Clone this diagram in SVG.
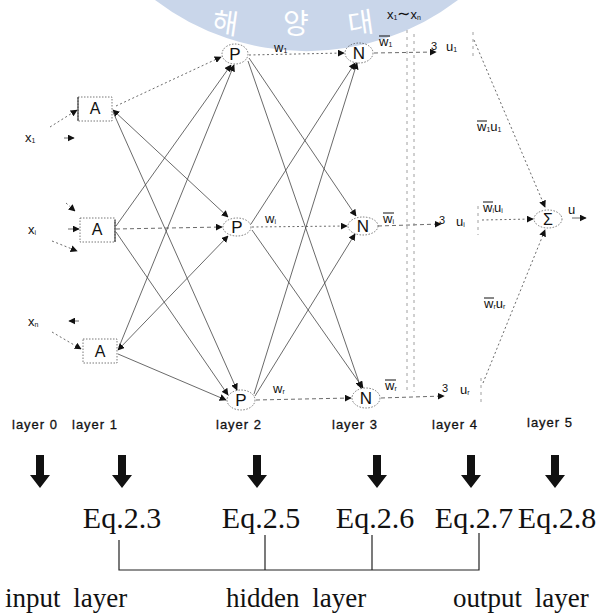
<svg xmlns="http://www.w3.org/2000/svg" width="606" height="613" viewBox="0 0 606 613">
  <defs>
    <marker id="ah" viewBox="0 0 10 10" refX="9" refY="5" markerWidth="7" markerHeight="7" markerUnits="userSpaceOnUse" orient="auto-start-reverse">
      <path d="M0,0 L10,5 L0,10 z" fill="#111"/>
    </marker>
  </defs>
  <style>
    .sans { font-family: "Liberation Sans", Arial, sans-serif; fill: #111; }
    .serif { font-family: "Liberation Serif", "Times New Roman", serif; fill: #111; }
    .node { fill: none; stroke: #555; stroke-width: 0.8; stroke-dasharray: 1.5 1.5; }
    .bar { stroke: #222; stroke-width: 1; }
    .edge { fill: none; stroke: #444; stroke-width: 0.8; marker-end: url(#ah); }
    .dot { stroke-dasharray: 2 2.5; }
    .dash { stroke-dasharray: 4 3; }
    .guide { fill: none; stroke: #888; stroke-width: 0.8; stroke-dasharray: 3 4; }
    .lbl { font-size: 13px; }
    .sub { font-size: 7px; }
    .layer { font-size: 13px; letter-spacing: 1px; stroke: #111; stroke-width: 0.3; }
    .eq { font-size: 30px; }
    .big { font-size: 27px; word-spacing: 6px; }
    .down { fill: #111; }
  </style>

  <!-- faint seal behind the top of the diagram -->
  <g id="seal">
    <path d="M155,0 A250,250 0 0 0 458,0 Z" fill="#c9d6ea"/>
    <g font-family="'Noto Sans CJK KR', sans-serif" font-size="28" fill="#ffffff">
      <text x="224" y="33" text-anchor="middle" transform="rotate(8 224 33)">해</text>
      <text x="296" y="34" text-anchor="middle">양</text>
      <text x="362" y="33" text-anchor="middle" transform="rotate(-8 362 33)">대</text>
    </g>
  </g>

  <!-- connectors -->
  <g id="connectors">
    <!-- inputs to layer 1 -->
    <line class="edge dot" x1="50" y1="127" x2="77" y2="110"/>
    <line class="edge" x1="64" y1="138" x2="74" y2="138"/>
    <line class="edge dot" x1="66" y1="203" x2="75" y2="211"/>
    <line class="edge" x1="68" y1="229" x2="79" y2="229"/>
    <line class="edge dot" x1="52" y1="241" x2="77" y2="251"/>
    <line class="edge" x1="79" y1="321" x2="69" y2="321"/>
    <line class="edge dot" x1="52" y1="332" x2="81" y2="349"/>

    <!-- layer 1 to layer 2 -->
    <line class="edge dot" x1="116" y1="106" x2="221" y2="57"/>
    <line class="edge" x1="116" y1="226" x2="231" y2="65"/>
    <line class="edge" x1="119" y1="347" x2="234" y2="65"/>
    <line class="edge" x1="113" y1="110" x2="228" y2="217" marker-start="url(#ah)"/>
    <line class="edge dash" x1="116" y1="229" x2="222" y2="227"/>
    <line class="edge" x1="118" y1="350" x2="228" y2="236" marker-start="url(#ah)"/>
    <line class="edge" x1="113" y1="112" x2="237" y2="390"/>
    <line class="edge" x1="116" y1="232" x2="228" y2="395"/>
    <line class="edge" x1="118" y1="354" x2="226" y2="400"/>

    <!-- layer 2 to layer 3 -->
    <line class="edge dot" x1="249" y1="55" x2="344" y2="53"/>
    <line class="edge" x1="249" y1="58" x2="356" y2="216"/>
    <line class="edge" x1="248" y1="61" x2="361" y2="388"/>
    <line class="edge" x1="251" y1="224" x2="355" y2="63"/>
    <line class="edge dot" x1="252" y1="227" x2="347" y2="226"/>
    <line class="edge" x1="252" y1="230" x2="363" y2="388"/>
    <line class="edge" x1="254" y1="394" x2="357" y2="63"/>
    <line class="edge" x1="255" y1="396" x2="355" y2="234"/>
    <line class="edge dash" x1="256" y1="400" x2="351" y2="398"/>

    <!-- layer 3 to layer 4 -->
    <line class="edge dash" x1="374" y1="53" x2="436" y2="52"/>
    <line class="edge dash" x1="378" y1="226" x2="441" y2="224"/>
    <line class="edge dash" x1="381" y1="398" x2="444" y2="396"/>

    <!-- shared inputs x1 ~ xn -->
    <line class="guide" x1="407" y1="30" x2="407" y2="392"/>
    <line class="guide" x1="414" y1="34" x2="414" y2="392"/>

    <!-- layer 4 to layer 5 -->
    <line class="edge dot" x1="474" y1="40" x2="545" y2="207"/>
    <line class="edge dot" x1="482" y1="220" x2="533" y2="219"/>
    <line class="edge dot" x1="483" y1="383" x2="545" y2="230"/>
    <line class="edge" x1="572" y1="218" x2="586" y2="218"/>
  </g>

  <!-- inputs -->
  <g id="inputs" class="sans">
    <text x="25" y="142" class="lbl">x<tspan class="sub" dy="1">1</tspan></text>
    <text x="28" y="234" class="lbl">x<tspan class="sub" dy="1">i</tspan></text>
    <text x="28" y="326" class="lbl">x<tspan class="sub" dy="1">n</tspan></text>
  </g>

  <!-- layer 1 -->
  <g id="A1">
    <rect class="node" x="78" y="97" width="34" height="24"/>
    <line class="bar" x1="78" y1="97" x2="78" y2="121"/>
    <text class="sans" x="95" y="114" font-size="16" text-anchor="middle">A</text>
  </g>
  <g id="A2">
    <rect class="node" x="80" y="218" width="35" height="24"/>
    <line class="bar" x1="115" y1="220" x2="115" y2="242"/>
    <text class="sans" x="97" y="235" font-size="16" text-anchor="middle">A</text>
  </g>
  <g id="A3">
    <rect class="node" x="83" y="339" width="34" height="24"/>
    <text class="sans" x="100" y="357" font-size="16" text-anchor="middle">A</text>
  </g>

  <!-- layer 2 -->
  <g id="P1">
    <ellipse class="node" cx="235" cy="54" rx="13" ry="10"/>
    <text class="sans" x="235" y="60" font-size="17" text-anchor="middle">P</text>
  </g>
  <g id="P2">
    <ellipse class="node" cx="237" cy="227" rx="14" ry="9"/>
    <text class="sans" x="237" y="233" font-size="17" text-anchor="middle">P</text>
  </g>
  <g id="P3">
    <ellipse class="node" cx="241" cy="400" rx="14" ry="10"/>
    <text class="sans" x="241" y="406" font-size="17" text-anchor="middle">P</text>
  </g>

  <!-- layer 3 -->
  <g id="N1">
    <ellipse class="node" cx="359" cy="53" rx="14" ry="10"/>
    <text class="sans" x="359" y="59" font-size="17" text-anchor="middle">N</text>
  </g>
  <g id="N2">
    <ellipse class="node" cx="363" cy="226" rx="15" ry="9"/>
    <text class="sans" x="363" y="232" font-size="17" text-anchor="middle">N</text>
  </g>
  <g id="N3">
    <ellipse class="node" cx="366" cy="398" rx="14" ry="10"/>
    <text class="sans" x="366" y="404" font-size="17" text-anchor="middle">N</text>
  </g>

  <!-- layer 4 -->
  <g id="U1" class="sans">
    <line class="guide" x1="473" y1="32" x2="473" y2="56"/>
    <text x="431" y="50" font-size="11">3</text>
    <text x="446" y="51" class="lbl">u<tspan class="sub" dy="1">1</tspan></text>
  </g>
  <g id="Ui" class="sans">
    <line class="guide" x1="478" y1="206" x2="478" y2="235"/>
    <text x="439" y="224" font-size="11">3</text>
    <text x="456" y="226" class="lbl">u<tspan class="sub" dy="1">i</tspan></text>
  </g>
  <g id="Ur" class="sans">
    <line class="guide" x1="481" y1="378" x2="481" y2="402"/>
    <text x="442" y="392" font-size="11">3</text>
    <text x="460" y="394" class="lbl">u<tspan class="sub" dy="1">r</tspan></text>
  </g>

  <!-- layer 5 -->
  <g id="Sum">
    <ellipse class="node" cx="548" cy="219" rx="14" ry="9"/>
    <text class="sans" x="548" y="225" font-size="16" text-anchor="middle">Σ</text>
    <text class="sans lbl" x="568" y="214">u</text>
  </g>

  <!-- weight labels -->
  <g id="weights" class="sans">
    <text x="387" y="19" class="lbl">x<tspan class="sub" dy="1">1</tspan><tspan dy="-1" font-size="16">∼</tspan>x<tspan class="sub" dy="1">n</tspan></text>
    <text x="274" y="52" class="lbl">w<tspan class="sub" dy="1">1</tspan></text>
    <text x="265" y="223" class="lbl">w<tspan class="sub" dy="1">i</tspan></text>
    <text x="273" y="393" class="lbl">w<tspan class="sub" dy="1">r</tspan></text>
    <g stroke="#111" stroke-width="1">
      <line x1="379" y1="36" x2="390" y2="36"/>
      <line x1="383" y1="213" x2="394" y2="213"/>
      <line x1="385" y1="380" x2="396" y2="380"/>
      <line x1="477" y1="121" x2="487" y2="121"/>
      <line x1="483" y1="202" x2="493" y2="202"/>
      <line x1="484" y1="298" x2="494" y2="298"/>
    </g>
    <text x="379" y="46" class="lbl">w<tspan class="sub" dy="1">1</tspan></text>
    <text x="383" y="223" class="lbl">w<tspan class="sub" dy="1">i</tspan></text>
    <text x="385" y="390" class="lbl">w<tspan class="sub" dy="1">r</tspan></text>
    <text x="477" y="131" class="lbl">w<tspan class="sub" dy="1">1</tspan><tspan dy="-1">u</tspan><tspan class="sub" dy="1">1</tspan></text>
    <text x="483" y="212" class="lbl">w<tspan class="sub" dy="1">i</tspan><tspan dy="-1">u</tspan><tspan class="sub" dy="1">i</tspan></text>
    <text x="484" y="308" class="lbl">w<tspan class="sub" dy="1">r</tspan><tspan dy="-1">u</tspan><tspan class="sub" dy="1">r</tspan></text>
  </g>

  <!-- layer captions -->
  <g id="layers" class="sans layer">
    <text x="12" y="429">layer 0</text>
    <text x="72" y="429">layer 1</text>
    <text x="216" y="429">layer 2</text>
    <text x="332" y="429">layer 3</text>
    <text x="432" y="429">layer 4</text>
    <text x="527" y="427">layer 5</text>
  </g>

  <!-- equation pointers -->
  <g id="pointers" class="down">
    <path d="M36,455 h8 v20 h6 l-10,13 l-10,-13 h6 z"/>
    <path d="M118,455 h8 v20 h6 l-10,13 l-10,-13 h6 z"/>
    <path d="M253,455 h8 v20 h6 l-10,13 l-10,-13 h6 z"/>
    <path d="M373,455 h8 v20 h6 l-10,13 l-10,-13 h6 z"/>
    <path d="M467,455 h8 v20 h6 l-10,13 l-10,-13 h6 z"/>
    <path d="M551,455 h8 v20 h6 l-10,13 l-10,-13 h6 z"/>
  </g>

  <g id="equations" class="serif eq" text-anchor="middle">
    <text x="122" y="528">Eq.2.3</text>
    <text x="261" y="528">Eq.2.5</text>
    <text x="375" y="528">Eq.2.6</text>
    <text x="474" y="528">Eq.2.7</text>
    <text x="557" y="528">Eq.2.8</text>
  </g>

  <!-- grouping bracket -->
  <g id="bracket" fill="none" stroke="#222" stroke-width="1.2">
    <path d="M119,540 V570 H479 V533"/>
    <line x1="265" y1="535" x2="265" y2="570"/>
    <line x1="372" y1="535" x2="372" y2="570"/>
  </g>

  <g id="groups" class="serif big">
    <text x="5" y="607">input layer</text>
    <text x="226" y="607">hidden layer</text>
    <text x="453" y="607">output layer</text>
  </g>
</svg>
